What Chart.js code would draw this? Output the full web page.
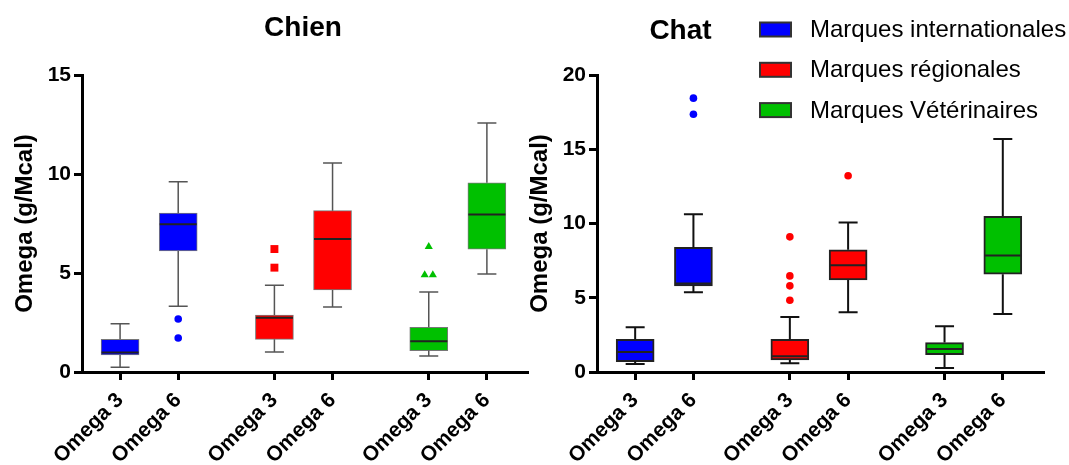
<!DOCTYPE html>
<html>
<head>
<meta charset="utf-8">
<script src="https://cdn.jsdelivr.net/npm/chart.js@4.4.0/dist/chart.umd.min.js"></script>
<style>
  html, body { margin: 0; padding: 0; background: #fff; }
  #wrap { position: relative; width: 1069px; height: 465px; overflow: hidden; }
  #c1 { position: absolute; left: 0; top: 0; }
  #c2 { position: absolute; left: 515px; top: 0; }
</style>
</head>
<body>
<div id="wrap">
  <canvas id="c1" width="545" height="465"></canvas>
  <canvas id="c2" width="554" height="465"></canvas>
</div>
<script>
// ── data ──────────────────────────────────────────
var groups      = ['Marques internationales', 'Marques régionales', 'Marques Vétérinaires'];
var groupColors = ['#0000ff', '#ff0000', '#00c000'];
var tickLabels  = ['Omega 3', 'Omega 6', 'Omega 3', 'Omega 6', 'Omega 3', 'Omega 6'];
var xPos        = [0, 1, 2.655, 3.655, 5.31, 6.31];   // box centres on the x axis
var boxGroup    = [0, 0, 1, 1, 2, 2];

// Chien
var chienMin = [0.24, 3.32, 1.01, 3.28, 0.81, 4.95];
var chienQ1  = [0.86, 6.11, 1.65, 4.14, 1.08, 6.20];
var chienMed = [0.99, 7.46, 2.74, 6.72, 1.55, 7.96];
var chienQ3  = [1.65, 8.02, 2.88, 8.15, 2.26, 9.56];
var chienMax = [2.44, 9.61, 4.38, 10.56, 4.04, 12.58];
var chienOut = [[], [2.68, 1.72], [6.21, 5.27], [], [6.33, 4.90, 4.90], []];

// Chat
var chatMin = [0.54, 5.37, 0.59, 4.03, 0.27, 3.91];
var chatQ1  = [0.70, 5.80, 0.81, 6.20, 1.17, 6.59];
var chatMed = [1.35, 5.96, 1.06, 7.19, 1.55, 7.85];
var chatQ3  = [2.20, 8.39, 2.20, 8.23, 1.98, 10.48];
var chatMax = [3.01, 10.63, 3.71, 10.07, 3.08, 15.69];
var chatOut = [[], [18.44, 17.36], [9.10, 6.47, 5.80, 4.83], [13.22], [], []];

Chart.defaults.font.family = '"Liberation Sans", Arial, sans-serif';
Chart.defaults.color = '#000';

// whiskers + medians, drawn through the chart's scales
var boxPlugin = {
  id: 'boxes',
  afterDatasetsDraw: function (chart) {
    var o = chart.options.plugins.boxes;
    var xs = chart.scales.x, ys = chart.scales.y, c = chart.ctx;
    var half = 18.5, cap = 9.5;
    c.save();
    xPos.forEach(function (xv, i) {
      var px = xs.getPixelForValue(xv);
      var yMax = ys.getPixelForValue(o.max[i]), yMin = ys.getPixelForValue(o.min[i]);
      c.strokeStyle = o.whisker; c.lineWidth = o.whiskerW;
      c.beginPath();
      c.moveTo(px, ys.getPixelForValue(o.q3[i])); c.lineTo(px, yMax);
      c.moveTo(px - cap, yMax); c.lineTo(px + cap, yMax);
      c.moveTo(px, ys.getPixelForValue(o.q1[i])); c.lineTo(px, yMin);
      c.moveTo(px - cap, yMin); c.lineTo(px + cap, yMin);
      c.stroke();
      var ym = ys.getPixelForValue(o.med[i]);
      c.strokeStyle = o.median; c.lineWidth = o.medianW;
      c.beginPath(); c.moveTo(px - half, ym); c.lineTo(px + half, ym); c.stroke();
    });
    c.restore();
  }
};

var textPlugin = {
  id: 'extras',
  afterDraw: function (chart) {
    var o = chart.options.plugins.extras, c = chart.ctx;
    c.save();
    c.fillStyle = '#000';
    c.font = 'bold 28px "Liberation Sans", Arial, sans-serif';
    c.textAlign = 'center'; c.textBaseline = 'middle';
    c.fillText(o.title, o.titleX, o.titleY);
    if (o.legend) {
      c.font = '24px "Liberation Sans", Arial, sans-serif';
      c.textAlign = 'left';
      groups.forEach(function (g, i) {
        var cy = 29.5 + i * 40.3;
        c.fillStyle = groupColors[i];
        c.fillRect(245, cy - 7, 31, 14);
        c.strokeStyle = '#333'; c.lineWidth = 2;
        c.strokeRect(245, cy - 7, 31, 14);
        c.fillStyle = '#000';
        c.fillText(g, 295, cy + 1);
      });
    }
    c.restore();
  }
};

function outlierPoints(out, gi) {
  var pts = [];
  out.forEach(function (vals, i) {
    if (boxGroup[i] !== gi) return;
    vals.forEach(function (v, k) {
      var same = vals.filter(function (w) { return w === v; }).length;
      var idx = vals.slice(0, k).filter(function (w) { return w === v; }).length;
      pts.push({ x: xPos[i] + (idx - (same - 1) / 2) * 0.14, y: v });
    });
  });
  return pts;
}

function makeBoxChart(id, s) {
  var datasets = [];
  groups.forEach(function (g, gi) {
    datasets.push({
      type: 'bar',
      label: g,
      data: xPos.map(function (xv, i) {
        return boxGroup[i] === gi ? { x: xv, y: [s.q1[i], s.q3[i]] } : null;
      }).filter(Boolean),
      backgroundColor: groupColors[gi],
      borderColor: s.border,
      borderWidth: s.borderW,
      borderSkipped: false,
      barThickness: 38,
      grouped: false
    });
  });
  groups.forEach(function (g, gi) {
    datasets.push({
      type: 'scatter',
      label: g + ' outliers',
      data: outlierPoints(s.out, gi),
      pointStyle: s.pointStyles[gi],
      pointRadius: s.pointRadius[gi],
      pointBackgroundColor: groupColors[gi],
      pointBorderWidth: 0,
      showLine: false
    });
  });

  return new Chart(document.getElementById(id), {
    type: 'bar',
    data: { datasets: datasets },
    plugins: [boxPlugin, textPlugin],
    options: {
      responsive: false,
      animation: false,
      layout: { padding: { top: 75, right: s.padRight, left: 0, bottom: 0 } },
      plugins: {
        legend: { display: false },
        tooltip: { enabled: false },
        boxes: { min: s.min, q1: s.q1, med: s.med, q3: s.q3, max: s.max,
                 whisker: s.whisker, whiskerW: s.whiskerW, median: s.median, medianW: s.medianW },
        extras: { title: s.title, titleX: s.titleX, titleY: s.titleY, legend: s.legend }
      },
      scales: {
        x: {
          type: 'linear', min: -0.655, max: 7.0, offset: false,
          afterBuildTicks: function (sc) { sc.ticks = xPos.map(function (v) { return { value: v }; }); },
          ticks: {
            autoSkip: false, minRotation: 45, maxRotation: 45, padding: 8,
            color: '#000', font: { size: 21, weight: 'bold' },
            callback: function (v, i) { return tickLabels[i]; }
          },
          grid: { offset: false, drawOnChartArea: false, tickLength: 8, lineWidth: 3, color: '#000' },
          border: { width: 3, color: '#000' },
          afterFit: function (sc) { sc.height = 93; }
        },
        y: {
          min: 0, max: s.yMax,
          ticks: { stepSize: 5, padding: 3, color: '#000', font: { size: 21, weight: 'bold' } },
          grid: { drawOnChartArea: false, tickLength: 8, lineWidth: 3, color: '#000' },
          border: { width: 3, color: '#000' },
          title: { display: true, text: 'Omega (g/Mcal)', color: '#000',
                   font: { size: 24, weight: 'bold' }, padding: { top: 11, bottom: 0 } },
          afterFit: function (sc) { sc.width = 82; }
        }
      }
    }
  });
}

makeBoxChart('c1', {
  min: chienMin, q1: chienQ1, med: chienMed, q3: chienQ3, max: chienMax, out: chienOut,
  yMax: 15, padRight: 18,
  border: '#777', borderW: 1, whisker: '#555', whiskerW: 1.5, median: '#222', medianW: 2,
  pointStyles: ['circle', 'rect', 'triangle'], pointRadius: [3.8, 5.6, 4.7],
  title: 'Chien', titleX: 303, titleY: 28, legend: false
});

makeBoxChart('c2', {
  min: chatMin, q1: chatQ1, med: chatMed, q3: chatQ3, max: chatMax, out: chatOut,
  yMax: 20, padRight: 26,
  border: '#222', borderW: 2, whisker: '#111', whiskerW: 2, median: '#222', medianW: 2,
  pointStyles: ['circle', 'circle', 'circle'], pointRadius: [3.8, 3.8, 3.8],
  title: 'Chat', titleX: 165.5, titleY: 31.5, legend: true
});
</script>
</body>
</html>
